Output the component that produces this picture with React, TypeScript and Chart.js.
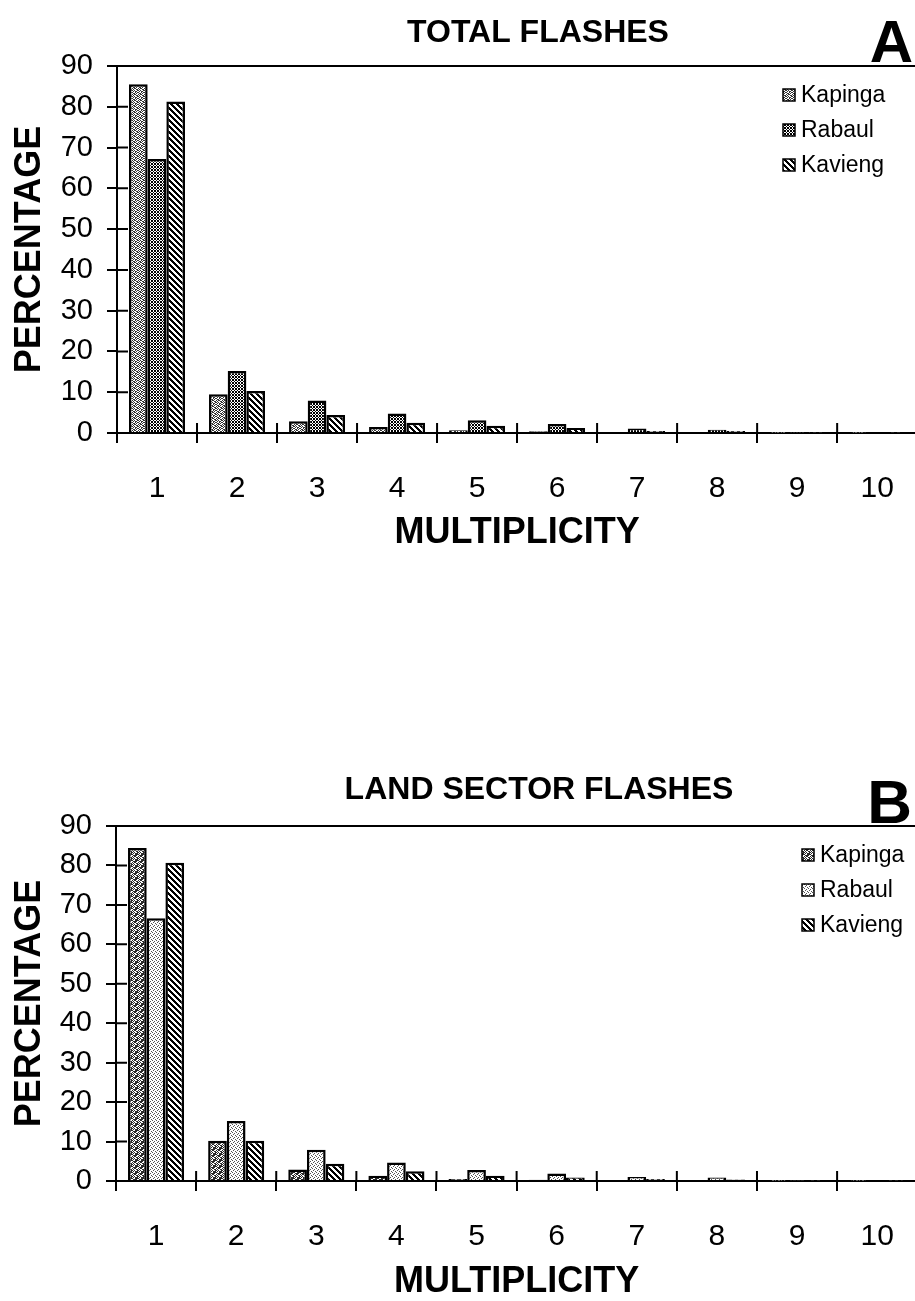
import React, { useEffect, useRef } from "react";
import { Chart, registerables } from "chart.js";

Chart.register(...registerables);

const categories = ["1", "2", "3", "4", "5", "6", "7", "8", "9", "10"];
const seriesNames = ["Kapinga", "Rabaul", "Kavieng"];

const kapingaTotal = [85.5, 9.5, 2.9, 1.5, 0.7, 0.4, 0.25, 0.2, 0.05, 0.05];
const rabaulTotal = [67.2, 15.2, 8.0, 4.8, 3.1, 2.2, 1.1, 0.8, 0.15, 0.2];
const kaviengTotal = [81.3, 10.3, 4.4, 2.5, 1.8, 1.2, 0.5, 0.5, 0.1, 0.1];

const kapingaLand = [84.4, 10.2, 2.9, 1.3, 0.5, 0.3, 0.2, 0.2, 0.05, 0.05];
const rabaulLand = [66.6, 15.2, 7.9, 4.7, 2.8, 1.9, 1.0, 0.9, 0.15, 0.2];
const kaviengLand = [80.7, 10.2, 4.4, 2.5, 1.3, 0.9, 0.5, 0.4, 0.1, 0.1];

const yTicks = [0, 10, 20, 30, 40, 50, 60, 70, 80, 90];

const SANS = "'Liberation Sans', Arial, Helvetica, sans-serif";
const NARROW = "'Liberation Sans Narrow', 'Arial Narrow', 'Liberation Sans', Arial, sans-serif";

function makePattern(size: number, fn: (x: number, y: number) => boolean, ink: string) {
  const c = document.createElement("canvas");
  c.width = size;
  c.height = size;
  const g = c.getContext("2d")!;
  g.fillStyle = "#fff";
  g.fillRect(0, 0, size, size);
  g.fillStyle = ink;
  for (let y = 0; y < size; y++) {
    for (let x = 0; x < size; x++) {
      if (fn(x, y)) g.fillRect(x, y, 1, 1);
    }
  }
  const ctx = document.createElement("canvas").getContext("2d")!;
  return ctx.createPattern(c, "repeat")!;
}

const stippleMask = [
  "101001",
  "010110",
  "100101",
  "011010",
  "101100",
  "010011",
];
const lightMask = [
  "1000",
  "0010",
  "0100",
  "0001",
];

function makeDecor(cfg: {
  title: string;
  titleX: number;
  titleY: number;
  letter: string;
  letterX: number;
  letterY: number;
  letterSize: number;
  legendX: number;
  legendY: number[];
}) {
  return {
    id: "decor" + cfg.letter,
    afterDraw(chart: any) {
      const ctx = chart.ctx as CanvasRenderingContext2D;
      const area = chart.chartArea;
      const xs = chart.scales.x;
      const ys = chart.scales.y;
      ctx.save();
      // top frame line
      ctx.strokeStyle = "#000";
      ctx.lineWidth = 2;
      ctx.beginPath();
      ctx.moveTo(area.left, area.top);
      ctx.lineTo(area.right, area.top);
      ctx.stroke();
      // inner halves of crossing ticks
      ctx.beginPath();
      ys.ticks.forEach((_t: any, i: number) => {
        const py = ys.getPixelForTick(i);
        ctx.moveTo(area.left, py);
        ctx.lineTo(area.left + 11, py);
      });
      const half = (xs.getPixelForTick(1) - xs.getPixelForTick(0)) / 2;
      for (let i = 1; i < xs.ticks.length; i++) {
        const px = xs.getPixelForTick(i) - half;
        ctx.moveTo(px, area.bottom);
        ctx.lineTo(px, area.bottom - 10);
      }
      ctx.stroke();
      // title
      ctx.fillStyle = "#000";
      ctx.textAlign = "center";
      ctx.textBaseline = "alphabetic";
      ctx.font = `bold 32px ${NARROW}`;
      ctx.fillText(cfg.title, cfg.titleX, cfg.titleY);
      // panel letter
      ctx.textAlign = "right";
      ctx.font = `bold ${cfg.letterSize}px ${SANS}`;
      ctx.fillText(cfg.letter, cfg.letterX, cfg.letterY);
      // legend
      ctx.textAlign = "left";
      ctx.textBaseline = "middle";
      ctx.font = `23px ${SANS}`;
      chart.data.datasets.forEach((ds: any, i: number) => {
        const cy = cfg.legendY[i];
        ctx.fillStyle = ds.backgroundColor;
        ctx.fillRect(cfg.legendX, cy - 6, 12, 12);
        ctx.lineWidth = 1.5;
        ctx.strokeStyle = "#000";
        ctx.strokeRect(cfg.legendX, cy - 6, 12, 12);
        ctx.fillStyle = "#000";
        ctx.fillText(ds.label, cfg.legendX + 18, cy + 1);
      });
      ctx.restore();
    },
  };
}

function makeConfig(
  values: number[][],
  fills: CanvasPattern[],
  yAxisWidth: number,
  xAxisHeight: number,
  padding: { top: number; right: number; bottom: number },
  decor: any
) {
  return {
    type: "bar" as const,
    data: {
      labels: categories,
      datasets: values.map((v, i) => ({
        label: seriesNames[i],
        data: v,
        backgroundColor: fills[i],
        borderColor: "#000",
        borderWidth: 2.5,
        categoryPercentage: 0.7,
        barPercentage: 1.0,
      })),
    },
    options: {
      responsive: false,
      animation: false as const,
      devicePixelRatio: 1,
      layout: { padding: { left: 0, ...padding } },
      plugins: {
        legend: { display: false },
        title: { display: false },
        tooltip: { enabled: false },
      },
      scales: {
        x: {
          offset: true,
          grid: {
            offset: true,
            drawOnChartArea: false,
            color: "#000",
            lineWidth: 2,
            tickLength: 10,
          },
          border: { color: "#000", width: 2 },
          ticks: {
            color: "#000",
            font: { size: 30, family: SANS },
            padding: 28,
            maxRotation: 0,
          },
          title: {
            display: true,
            text: "MULTIPLICITY",
            color: "#000",
            font: { size: 36, weight: "bold" as const, family: SANS },
            padding: { top: 0, bottom: 2 },
          },
          afterFit: (s: any) => {
            s.height = xAxisHeight;
          },
        },
        y: {
          min: 0,
          max: 90,
          afterBuildTicks: (s: any) => {
            s.ticks = yTicks.map((v) => ({ value: v }));
          },
          grid: {
            drawOnChartArea: false,
            color: "#000",
            lineWidth: 2,
            tickLength: 10,
          },
          border: { color: "#000", width: 2 },
          ticks: {
            color: "#000",
            font: { size: 29, family: SANS },
            padding: 14,
          },
          title: {
            display: true,
            text: "PERCENTAGE",
            color: "#000",
            font: { size: 36, weight: "bold" as const, family: SANS },
            padding: { top: 8, bottom: 0 },
          },
          afterFit: (s: any) => {
            s.width = yAxisWidth;
          },
        },
      },
    },
    plugins: [decor],
  };
}

export default function App() {
  const refA = useRef<HTMLCanvasElement>(null);
  const refB = useRef<HTMLCanvasElement>(null);

  useEffect(() => {
    document.body.style.margin = "0";
    document.body.style.overflow = "hidden";
    document.body.style.background = "#fff";

    const stipple = makePattern(6, (x, y) => stippleMask[y][x] === "1", "#333");
    const stippleDark = makePattern(6, (x, y) => stippleMask[y][x] === "1" || (x + y) % 6 === 0, "#2a2a2a");
    const cross = makePattern(6, (x, y) => (x + y) % 3 === 0 || (x - y + 6) % 3 === 0, "#000");
    const stripes = makePattern(6, (x, y) => ((x - y + 12) % 6) < 3, "#000");
    const light = makePattern(4, (x, y) => lightMask[y][x] === "1", "#555");

    const decorA = makeDecor({
      title: "TOTAL FLASHES",
      titleX: 538,
      titleY: 42,
      letter: "A",
      letterX: 913,
      letterY: 62,
      letterSize: 60,
      legendX: 783,
      legendY: [95, 130, 165],
    });
    const decorB = makeDecor({
      title: "LAND SECTOR FLASHES",
      titleX: 539,
      titleY: 199,
      letter: "B",
      letterX: 912,
      letterY: 223,
      letterSize: 62,
      legendX: 802,
      legendY: [255, 290, 325],
    });

    const chartA = new Chart(
      refA.current!,
      makeConfig(
        [kapingaTotal, rabaulTotal, kaviengTotal],
        [stipple, cross, stripes],
        117,
        124,
        { top: 66, right: 3, bottom: 43 },
        decorA
      ) as any
    );
    const chartB = new Chart(
      refB.current!,
      makeConfig(
        [kapingaLand, rabaulLand, kaviengLand],
        [stippleDark, light, stripes],
        116,
        125,
        { top: 226, right: 3, bottom: 701 - 226 - 355 - 125 },
        decorB
      ) as any
    );
    return () => {
      chartA.destroy();
      chartB.destroy();
    };
  }, []);

  return (
    <div style={{ width: 915, height: 1301, overflow: "hidden", background: "#fff" }}>
      <canvas ref={refA} width={922} height={600} style={{ display: "block" }} />
      <canvas ref={refB} width={922} height={701} style={{ display: "block" }} />
    </div>
  );
}
